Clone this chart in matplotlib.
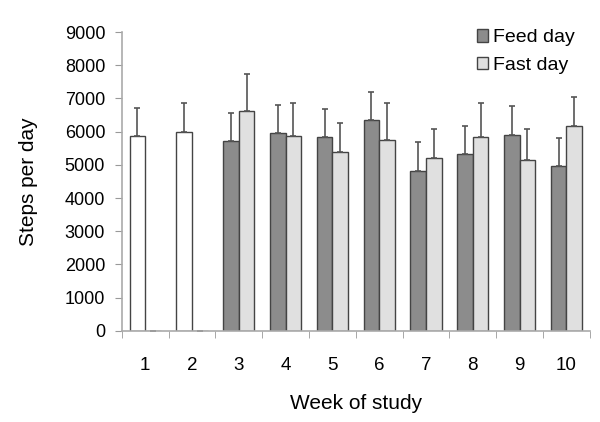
import matplotlib.pyplot as plt
import numpy as np
from matplotlib.patches import Patch

plt.rcParams["font.family"] = ["Liberation Sans", "DejaVu Sans"]

weeks = ["1", "2", "3", "4", "5", "6", "7", "8", "9", "10"]
feed = [5870, 6000, 5710, 5970, 5850, 6340, 4830, 5330, 5910, 4970]
feed_err = [850, 860, 850, 840, 840, 850, 850, 850, 850, 840]
fast = [0, 0, 6620, 5880, 5380, 5750, 5200, 5850, 5140, 6160]
fast_err = [0, 0, 1110, 980, 870, 1120, 890, 1000, 930, 870]
# weeks 1-2 were baseline weeks, drawn as open bars
feed_colors = ["white", "white"] + ["#8c8c8c"] * 8

FEED_C = "#8c8c8c"
FAST_C = "#e0e0e0"
EDGE = "#444444"

fig = plt.figure(figsize=(6, 4.22), dpi=100)
ax = fig.add_axes([0.203, 0.216, 0.78, 0.708])

x = np.arange(len(weeks))
w = 1 / 3
err_kw = dict(ecolor="#555555", elinewidth=1.2, capsize=2.5, capthick=1.2)

ax.bar(x - w / 2, feed, w, color=feed_colors, edgecolor=EDGE, linewidth=1.0,
       yerr=[np.zeros(len(feed)), feed_err], error_kw=err_kw, zorder=2)
ax.bar(x + w / 2, fast, w, color=FAST_C, edgecolor=EDGE, linewidth=1.0,
       yerr=[np.zeros(len(fast)), fast_err], error_kw=err_kw, zorder=2)

ax.set_xlim(-0.5, len(weeks) - 0.5)
ax.set_ylim(0, 9000)
ax.set_yticks(range(0, 9001, 1000))
ax.set_xticks(x)
ax.set_xticklabels(weeks)
ax.set_xticks(np.arange(-0.5, len(weeks) + 0.5, 1), minor=True)
ax.tick_params(axis="x", which="major", length=0, pad=19, labelsize=13.5)
ax.tick_params(axis="x", which="minor", length=5, color="#999999", direction="out")
ax.tick_params(axis="y", length=5, color="#999999", labelsize=13, pad=7)

for s in ("top", "right"):
    ax.spines[s].set_visible(False)
for s in ("left", "bottom"):
    ax.spines[s].set_color("#aaaaaa")
    ax.spines[s].set_linewidth(1.2)

ax.set_xlabel("Week of study", fontsize=15, labelpad=14)
ax.set_ylabel("Steps per day", fontsize=15, labelpad=19)

handles = [Patch(facecolor=FEED_C, edgecolor=EDGE, label="Feed day"),
           Patch(facecolor=FAST_C, edgecolor=EDGE, label="Fast day")]
ax.legend(handles=handles, loc="upper right", bbox_to_anchor=(0.985, 1.035), frameon=False,
          fontsize=14, handlelength=0.6, handleheight=0.6, handletextpad=0.25,
          labelspacing=0.55, borderaxespad=0)

fig.savefig("out.png", dpi=100)
